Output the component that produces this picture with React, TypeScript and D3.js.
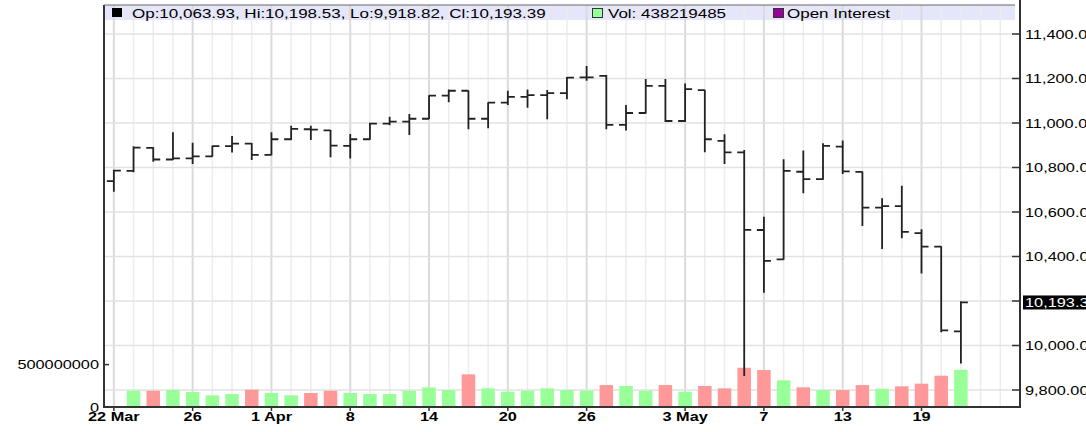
import { useRef, useEffect } from 'react';
import * as d3 from 'd3';

// daily bars, 22 Mar - 21 May 2010
const dates = [
  '2010-03-22', '2010-03-23', '2010-03-24', '2010-03-25', '2010-03-26', '2010-03-29', '2010-03-30', '2010-03-31',
  '2010-04-01', '2010-04-05', '2010-04-06', '2010-04-07', '2010-04-08', '2010-04-09', '2010-04-12', '2010-04-13',
  '2010-04-14', '2010-04-15', '2010-04-16', '2010-04-19', '2010-04-20', '2010-04-21', '2010-04-22', '2010-04-23',
  '2010-04-26', '2010-04-27', '2010-04-28', '2010-04-29', '2010-04-30', '2010-05-03', '2010-05-04', '2010-05-05',
  '2010-05-06', '2010-05-07', '2010-05-10', '2010-05-11', '2010-05-12', '2010-05-13', '2010-05-14', '2010-05-17',
  '2010-05-18', '2010-05-19', '2010-05-20', '2010-05-21'
];
const opens = [
  10739, 10785, 10888, 10836, 10841, 10850, 10896, 10907, 10857, 10927, 10972, 10967, 10897, 10927, 10997, 11006,
  11019, 11123, 11145, 11019, 11092, 11117, 11125, 11134, 11205, 11212, 10992, 11045, 11167, 11009, 11148, 10920,
  10868, 10519, 10387, 10781, 10748, 10894, 10780, 10620, 10626, 10505, 10444, 10063.93
];
const highs = [
  10790, 10895, 10891, 10958, 10911, 10899, 10942, 10910, 10958, 10988, 10988, 10968, 10951, 11001, 11028, 11040,
  11125, 11151, 11146, 11093, 11145, 11151, 11148, 11207, 11256, 11216, 11081, 11198, 11198, 11178, 11150, 10949,
  10879, 10579, 10837, 10876, 10909, 10921, 10782, 10662, 10718, 10522, 10446, 10198.53
];
const lows = [
  10691, 10779, 10826, 10834, 10816, 10848, 10867, 10834, 10855, 10924, 10924, 10846, 10840, 10925, 10990, 10946,
  11018, 11093, 10972, 10976, 11081, 11069, 11017, 11107, 11190, 10972, 10966, 11043, 11004, 11005, 10868, 10816,
  9863, 10237, 10385, 10684, 10745, 10771, 10537, 10434, 10482, 10324, 10060, 9918.82
];
const closes = [
  10786, 10889, 10836, 10841, 10850, 10896, 10907, 10857, 10927, 10974, 10970, 10898, 10927, 10997, 11006, 11019,
  11123, 11145, 11019, 11092, 11117, 11125, 11134, 11204, 11205, 10992, 11045, 11167, 11009, 11152, 10927, 10868,
  10520, 10380, 10785, 10748, 10897, 10783, 10620, 10626, 10511, 10444, 10068, 10193.39
];
const volumes = [
  null, 192e6, 192e6, 200e6, 177e6, 138e6, 153e6, 204e6, 165e6, 138e6, 165e6, 192e6, 165e6, 153e6, 153e6, 192e6,
  232e6, 200e6, 385e6, 220e6, 181e6, 192e6, 220e6, 200e6, 192e6, 259e6, 248e6, 192e6, 259e6, 181e6, 248e6, 220e6,
  463e6, 436e6, 315e6, 232e6, 200e6, 200e6, 259e6, 216e6, 244e6, 275e6, 369e6, 438219485
];
const priceTicks = [9800, 10000, 10200, 10400, 10600, 10800, 11000, 11200, 11400];
const volumeTicks = [0, 500000000];
const dateTicks = [
  '2010-03-22', '2010-03-26', '2010-04-01', '2010-04-08', '2010-04-14', '2010-04-20',
  '2010-04-26', '2010-05-03', '2010-05-07', '2010-05-13', '2010-05-19'
];

const FONT = "'Liberation Sans', Arial, sans-serif";
const STRETCH = 1.36;

export default function App() {
  const svgRef = useRef(null);

  useEffect(() => {
    const width = 1086, height = 432;
    const left = 104, right = 1020, top = 5, bottom = 407;

    const svg = d3.select(svgRef.current);
    svg.selectAll('*').remove();
    svg.attr('width', width).attr('height', height);

    const x = d3.scaleLinear().domain([-0.5, 46]).range([left, right]);
    const y = d3.scaleLinear().domain([9800, 11400]).range([390, 34]);
    const yv = d3.scaleLinear().domain([0, 500000000]).range([bottom, 364.6]);

    const parse = d3.timeParse('%Y-%m-%d');
    const fmt2 = d3.format(',.2f');

    // wide text, like the original
    const text = (g, tx, ty, str, size, anchor = 'start', weight = 'normal', fill = '#000') =>
      g.append('text')
        .attr('transform', `translate(${tx},${ty}) scale(${STRETCH},1)`)
        .attr('text-anchor', anchor)
        .attr('font-family', FONT)
        .attr('font-size', size)
        .attr('font-weight', weight)
        .attr('fill', fill)
        .text(str);

    svg.append('rect').attr('width', width).attr('height', height).attr('fill', '#fff');

    // legend strip
    svg.append('rect')
      .attr('x', left).attr('y', top).attr('width', 1015 - left).attr('height', 15)
      .attr('fill', '#e6e6fa');

    // grid
    const tickIdx = dateTicks.map(d => dates.indexOf(d));
    svg.append('g').selectAll('line')
      .data(d3.range(46))
      .enter().append('line')
      .attr('x1', d => x(d)).attr('x2', d => x(d))
      .attr('y1', top).attr('y2', bottom)
      .attr('stroke', d => tickIdx.includes(d) ? '#dadada' : '#ececec')
      .attr('stroke-width', d => tickIdx.includes(d) ? 2 : 1.5);

    svg.append('g').selectAll('line')
      .data(priceTicks)
      .enter().append('line')
      .attr('x1', left).attr('x2', right)
      .attr('y1', d => y(d)).attr('y2', d => y(d))
      .attr('stroke', '#e2e2e2')
      .attr('stroke-width', 1.5);

    // volume
    const volData = dates.map((d, i) => ({ i, v: volumes[i], up: i > 0 && closes[i] >= closes[i - 1] }))
      .filter(d => d.v != null);
    svg.append('g').selectAll('rect')
      .data(volData)
      .enter().append('rect')
      .attr('x', d => x(d.i) - 6.75)
      .attr('y', d => yv(d.v))
      .attr('width', 13.5)
      .attr('height', d => yv(0) - yv(d.v))
      .attr('fill', d => d.up ? '#99ff99' : '#ff9999');

    // price bars
    svg.append('g').selectAll('path')
      .data(dates.map((d, i) => i))
      .enter().append('path')
      .attr('d', i => {
        const cx = x(i);
        return `M${cx},${y(highs[i])}V${y(lows[i])}` +
          `M${cx - 7},${y(opens[i])}H${cx}` +
          `M${cx},${y(closes[i])}H${cx + 7}`;
      })
      .attr('fill', 'none')
      .attr('stroke', '#222')
      .attr('stroke-width', 1.8);

    // axes
    const axes = svg.append('g').attr('stroke', '#333').attr('stroke-width', 2);
    axes.append('line').attr('x1', left).attr('x2', left).attr('y1', top).attr('y2', bottom + 1);
    axes.append('line').attr('x1', left).attr('x2', right).attr('y1', bottom).attr('y2', bottom);
    axes.append('line').attr('x1', right).attr('x2', right).attr('y1', 0).attr('y2', bottom + 1);

    const last = dates.length - 1;
    const lastClose = closes[last];

    priceTicks.forEach(t => {
      axes.append('line').attr('x1', right - 8).attr('x2', right).attr('y1', y(t)).attr('y2', y(t))
        .attr('stroke-width', 1.5);
      if (Math.abs(y(t) - y(lastClose)) > 10) text(svg, 1025, y(t) + 4.5, fmt2(t), 12);
    });
    svg.append('rect')
      .attr('x', 1023).attr('y', y(lastClose) - 7).attr('width', 70).attr('height', 14)
      .attr('fill', '#000');
    text(svg, 1025, y(lastClose) + 4.5, fmt2(lastClose), 12, 'start', 'normal', '#fff');

    volumeTicks.forEach(t => {
      axes.append('line').attr('x1', left).attr('x2', left + 5).attr('y1', yv(t)).attr('y2', yv(t))
        .attr('stroke-width', 1.5);
      text(svg, 99, yv(t) + 4.5, String(t), 12, 'end');
    });

    dateTicks.forEach((d, k) => {
      const i = dates.indexOf(d);
      const dt = parse(d);
      const prev = k > 0 ? parse(dateTicks[k - 1]) : null;
      const label = !prev || prev.getMonth() !== dt.getMonth()
        ? d3.timeFormat('%-d %b')(dt) : d3.timeFormat('%-d')(dt);
      axes.append('line').attr('x1', x(i)).attr('x2', x(i)).attr('y1', bottom).attr('y2', bottom + 4)
        .attr('stroke-width', 1.5);
      text(svg, x(i), 421, label, 12, 'middle', 'bold');
    });

    // legend
    svg.append('line').attr('x1', left).attr('x2', 1015).attr('y1', top).attr('y2', top)
      .attr('stroke', '#666').attr('stroke-width', 1);
    svg.append('rect').attr('x', 112).attr('y', 8).attr('width', 10).attr('height', 9).attr('fill', '#000');
    text(svg, 132, 17.5,
      `Op:${fmt2(opens[last])}, Hi:${fmt2(highs[last])}, Lo:${fmt2(lows[last])}, Cl:${fmt2(closes[last])}`, 12.5);
    svg.append('rect').attr('x', 592.5).attr('y', 8.5).attr('width', 10).attr('height', 9)
      .attr('fill', '#99ff99').attr('stroke', '#333');
    text(svg, 608, 17.5, `Vol: ${volumes[last]}`, 12.5);
    svg.append('rect').attr('x', 773.5).attr('y', 8.5).attr('width', 10).attr('height', 9)
      .attr('fill', '#990099').attr('stroke', '#333');
    text(svg, 787, 17.5, 'Open Interest', 12.5);
  }, []);

  return (
    <svg ref={svgRef} style={{ position: 'absolute', left: 0, top: 0, display: 'block' }} />
  );
}
